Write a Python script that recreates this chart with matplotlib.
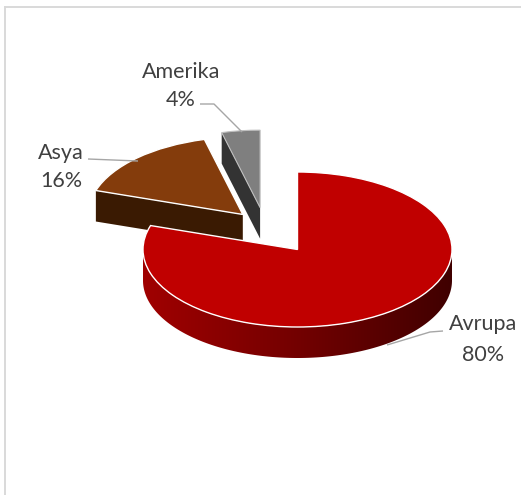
import numpy as np
import matplotlib
matplotlib.use('Agg')
import matplotlib.pyplot as plt
from matplotlib.colors import LinearSegmentedColormap
from matplotlib.lines import Line2D
from matplotlib.patches import Polygon

# data
regions = ['Avrupa', 'Asya', 'Amerika']
shares = [80, 16, 4]
pct_labels = ['80%', '16%', '4%']

# look
top_colors = ['#c00000', '#843c0c', '#7f7f7f']
wall_colors = [None, '#3a1a02', '#333333']
grey_line = '#a6a6a6'
text_color = '#404040'
W, H = 521, 495
cx, cy = 297.5, 249.5   # pie centre in pixels
rx, ry = 154.5, 77.5    # pie radii in pixels
depth = 31 / ry
# slice shifts in pie units (x, y)
shifts = [(0.0, 0.0), (-0.354, 0.452), (-0.242, 0.54)]

plt.rcParams['font.family'] = ['Lato', 'DejaVu Sans']

fig = plt.figure(figsize=(W / 100, H / 100), dpi=100)
ax = fig.add_axes([0, 0, 1, 1])


def px(x, y):
    # pixel position (from top left) to pie units
    return (x - cx) / rx, (cy - y) / ry


wedges, _ = ax.pie(shares, colors=top_colors, startangle=90, counterclock=False,
                   wedgeprops={'edgecolor': 'white', 'linewidth': 1.0, 'zorder': 3})
for w, s in zip(wedges, shifts):
    w.set_center(s)
wedges[2].set_edgecolor('#bfbfbf')
wedges[2].set_linewidth(0.8)

# side of the big slice, one gradient clipped to the rim
wall_cmap = LinearSegmentedColormap.from_list('wall', ['#a00000', '#730000', '#400000'])
angles = np.linspace(np.pi, 2 * np.pi, 181)
rim = np.column_stack([np.cos(angles), np.sin(angles)])
outline = np.vstack([rim, (rim - [0, depth])[::-1]])
wall = Polygon(outline, closed=True, transform=ax.transData, fc='none', ec='none')
ax.add_patch(wall)
grad = ax.imshow(np.linspace(0, 1, 256).reshape(1, -1), cmap=wall_cmap, aspect='auto',
                 extent=(-1, 1, -1 - depth, 0.1), zorder=1)
grad.set_clip_path(wall)

ax.set_aspect('auto')
ax.set_xlim(px(0, 0)[0], px(W, 0)[0])
ax.set_ylim(px(0, H)[1], px(0, 0)[1])

# cut faces of the two small slices
edge_share = np.cumsum(shares) / np.sum(shares)
for i, frac in [(1, edge_share[0]), (2, edge_share[1])]:
    ang = np.pi / 2 - 2 * np.pi * frac
    sx, sy = shifts[i]
    ex, ey = sx + np.cos(ang), sy + np.sin(ang)
    ax.fill([sx, ex, ex, sx], [sy, ey, ey - depth, sy - depth],
            color=wall_colors[i], lw=0, zorder=1)

# leader lines
leaders = [
    [(443, 331), (430, 332), (387, 345)],
    [(88, 159), (138, 161)],
    [(200, 104), (214, 104), (242, 132)],
]
for pts in leaders:
    xy = [px(*p) for p in pts]
    ax.plot([p[0] for p in xy], [p[1] for p in xy], color=grey_line, lw=1.0,
            zorder=4, solid_capstyle='butt')

# labels
label_pos = [(483, 324, 355), (61, 153, 181), (181, 72, 100)]
for name, pct, (lx, y1, y2) in zip(regions, pct_labels, label_pos):
    ax.text(*px(lx, y1), name, ha='center', va='center', fontsize=15.5, color=text_color, zorder=5)
    ax.text(*px(lx, y2), pct, ha='center', va='center', fontsize=15.5, color=text_color, zorder=5)

# chart frame, only left and top show
fig.add_artist(Line2D([5 / W, 5 / W], [0, 1 - 7 / H], color='#d9d9d9', lw=1.4))
fig.add_artist(Line2D([5 / W, 1], [1 - 7 / H, 1 - 7 / H], color='#d9d9d9', lw=1.4))

fig.savefig('out.png', dpi=100)
